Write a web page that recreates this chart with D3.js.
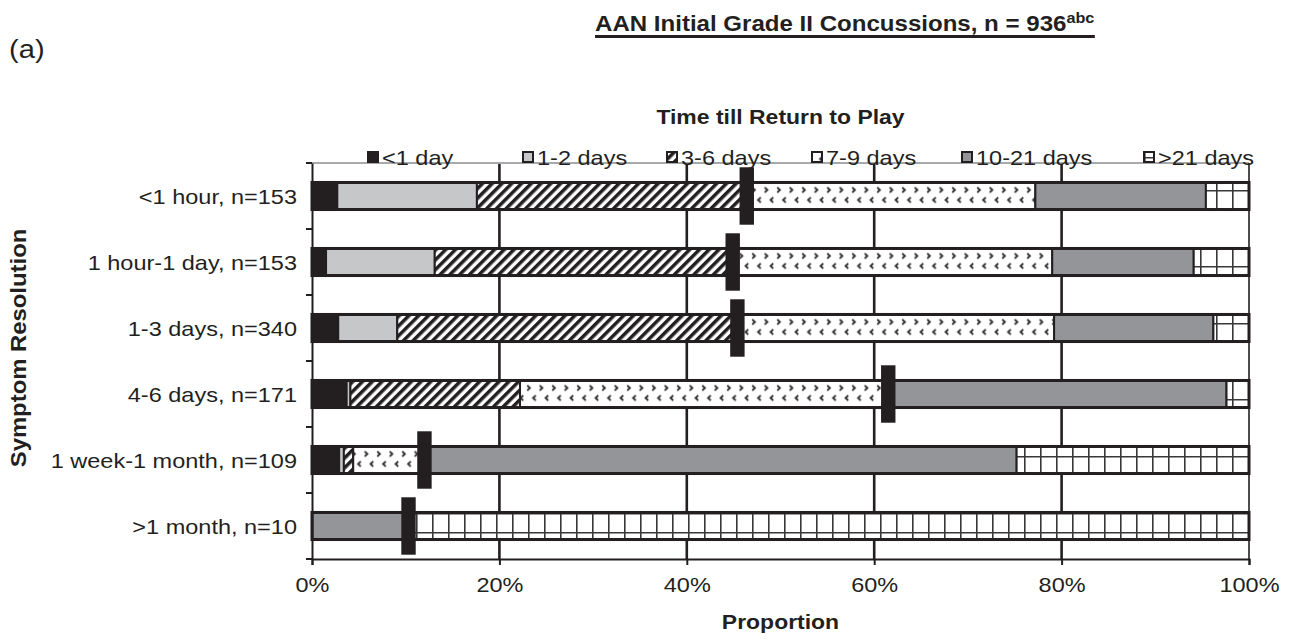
<!DOCTYPE html>
<html><head><meta charset="utf-8">
<script src="https://cdn.jsdelivr.net/npm/d3@7"></script>
<style>
body{margin:0;background:#fff}
text{font-family:"Liberation Sans",Arial,Helvetica,sans-serif;fill:#231f20}
</style>
</head><body>
<svg id="chart" width="1294" height="641"></svg>
<script>
// ---- data (percent of each symptom-resolution group) ----
const categories = ["<1 hour, n=153", "1 hour-1 day, n=153", "1-3 days, n=340",
                    "4-6 days, n=171", "1 week-1 month, n=109", ">1 month, n=10"];
const seriesNames = ["<1 day", "1-2 days", "3-6 days", "7-9 days", "10-21 days", ">21 days"];
const lessThan1Day = [2.7, 1.5, 2.8, 3.7, 2.9, 0];
const days1to2     = [14.9, 11.6, 6.3, 0.4, 0.5, 0];
const days3to6     = [28.7, 31.5, 36.3, 18.1, 1.0, 0];
const days7to9     = [30.9, 34.4, 33.8, 39.0, 7.6, 0];
const days10to21   = [18.2, 15.1, 17.0, 36.4, 63.2, 10];
const over21Days   = [4.6, 5.9, 3.8, 2.4, 24.8, 90];
const medians      = [46.4, 44.9, 45.4, 61.5, 12.0, 10.3];
const xTicks = [0, 20, 40, 60, 80, 100];
const titleText = "AAN Initial Grade II Concussions, n = 936";
const titleSup = "abc";

// ---- setup ----
const svg = d3.select("#chart");
const INK = "#231f20";
const x = d3.scaleLinear().domain([0, 100]).range([312, 1249]);
const y = d3.scaleBand().domain(categories).range([163, 559])
  .paddingInner(0.59).paddingOuter(0.295);
const step = y.step();

const table = categories.map((c, i) => ({
  cat: c,
  [seriesNames[0]]: lessThan1Day[i],
  [seriesNames[1]]: days1to2[i],
  [seriesNames[2]]: days3to6[i],
  [seriesNames[3]]: days7to9[i],
  [seriesNames[4]]: days10to21[i],
  [seriesNames[5]]: over21Days[i]
}));
const stacked = d3.stack().keys(seriesNames)(table);

// ---- patterns ----
const defs = svg.append("defs");
const hatch = defs.append("pattern").attr("id", "hatch")
  .attr("patternUnits", "userSpaceOnUse").attr("width", 6.9).attr("height", 6.9)
  .attr("patternTransform", "rotate(45)");
hatch.append("rect").attr("width", 6.9).attr("height", 6.9).attr("fill", "#fff");
hatch.append("rect").attr("width", 3.5).attr("height", 6.9).attr("fill", INK);

const chev = defs.append("pattern").attr("id", "chev")
  .attr("patternUnits", "userSpaceOnUse").attr("width", 12.5).attr("height", step)
  .attr("x", 0).attr("y", y(categories[0]));
chev.append("rect").attr("width", 12.5).attr("height", step).attr("fill", "#fff");
chev.append("path").attr("d", "M2.2,5 L5,7.5 L2.2,10").attr("fill", "none")
  .attr("stroke", "#2e2b2c").attr("stroke-width", 1.7);
chev.append("path").attr("d", "M10.8,15 L8,17.5 L10.8,20").attr("fill", "none")
  .attr("stroke", "#2e2b2c").attr("stroke-width", 1.7);

const grid = defs.append("pattern").attr("id", "grid")
  .attr("patternUnits", "userSpaceOnUse").attr("width", 16).attr("height", 19);
grid.append("rect").attr("width", 16).attr("height", 19).attr("fill", "#fff");
grid.append("path").attr("d", "M0,0 V19 M0,0 H16").attr("stroke", "#3a3738")
  .attr("stroke-width", 3.2).attr("fill", "none");

const fills = {
  "<1 day": INK,
  "1-2 days": "#c6c7c9",
  "3-6 days": "url(#hatch)",
  "7-9 days": "url(#chev)",
  "10-21 days": "#939598",
  ">21 days": "url(#grid)"
};

// helper for stretched text
function label(g, px, py, str, o = {}) {
  const t = g.append("text")
    .attr("transform", `translate(${px},${py}) rotate(${o.rot || 0}) scale(${o.sx || 1.12},1)`)
    .attr("text-anchor", o.anchor || "start")
    .attr("font-size", o.size || 21)
    .attr("font-weight", o.weight || "normal")
    .text(str);
  return t;
}

// ---- plot frame & gridlines ----
svg.append("g").selectAll("line").data(xTicks.slice(1, -1)).join("line")
  .attr("x1", d => x(d)).attr("x2", d => x(d))
  .attr("y1", y.range()[0]).attr("y2", y.range()[1])
  .attr("stroke", INK).attr("stroke-width", 2.6);
svg.append("line").attr("x1", x(0)).attr("x2", x(100))
  .attr("y1", y.range()[0]).attr("y2", y.range()[0])
  .attr("stroke", "#a7a9ac").attr("stroke-width", 2.2);
svg.append("line").attr("x1", x(100)).attr("x2", x(100))
  .attr("y1", y.range()[0]).attr("y2", y.range()[1])
  .attr("stroke", INK).attr("stroke-width", 1.6);

// ---- bars ----
const layers = svg.append("g").selectAll("g").data(stacked).join("g")
  .attr("fill", d => fills[d.key]);
layers.selectAll("rect").data(d => d.filter(s => s[1] - s[0] > 0)).join("rect")
  .attr("x", d => x(d[0])).attr("width", d => x(d[1]) - x(d[0]))
  .attr("y", d => y(d.data.cat)).attr("height", y.bandwidth())
  .attr("stroke", INK).attr("stroke-width", 2);
svg.append("g").selectAll("rect").data(categories).join("rect")
  .attr("x", x(0)).attr("width", x(100) - x(0))
  .attr("y", d => y(d)).attr("height", y.bandwidth())
  .attr("fill", "none").attr("stroke", INK).attr("stroke-width", 3);

// ---- median markers ----
const mh = step * 0.87;
svg.append("g").selectAll("rect").data(medians).join("rect")
  .attr("x", d => x(d) - 7.2).attr("width", 14.4)
  .attr("y", (d, i) => y(categories[i]) + y.bandwidth() / 2 - mh / 2)
  .attr("height", mh).attr("fill", INK);

// ---- axes ----
const xAxis = svg.append("g").attr("transform", `translate(0,${y.range()[1]})`)
  .call(d3.axisBottom(x).tickValues(xTicks).tickSize(6).tickFormat(d => d + "%"));
xAxis.select(".domain").attr("stroke", INK).attr("stroke-width", 2);
xAxis.selectAll(".tick line").attr("stroke", INK).attr("stroke-width", 2);
xAxis.selectAll(".tick text").remove();
xAxis.selectAll(".tick").each(function(d) {
  label(d3.select(this), 0, 33, d + "%", { anchor: "middle" });
});

const yAxis = svg.append("g").attr("transform", `translate(${x(0)},0)`)
  .call(d3.axisLeft(y).tickSize(0));
yAxis.select(".domain").attr("stroke", INK).attr("stroke-width", 2);
yAxis.selectAll(".tick text").remove();
yAxis.selectAll(".tick").each(function(d) {
  label(d3.select(this), -15, 7.5, d, { anchor: "end" });
});
yAxis.append("g").selectAll("line").data(d3.range(categories.length + 1)).join("line")
  .attr("x1", -6).attr("x2", 0)
  .attr("y1", i => y.range()[0] + i * step).attr("y2", i => y.range()[0] + i * step)
  .attr("stroke", INK).attr("stroke-width", 2);

// ---- titles ----
const tg = svg.append("g");
const title = label(tg, 595, 31, titleText, { size: 21.5, weight: "bold", sx: 1.12 });
title.append("tspan").attr("font-size", 14.5).attr("dy", -8).text(titleSup);
const tw = title.node().getBBox().width * 1.12;
tg.append("line").attr("x1", 595).attr("x2", 595 + tw).attr("y1", 36.5).attr("y2", 36.5)
  .attr("stroke", INK).attr("stroke-width", 3);

label(svg, 9, 58, "(a)", { size: 26, sx: 1.12 });
label(svg, (x(0) + x(100)) / 2, 124, "Time till Return to Play", { size: 20.5, weight: "bold", sx: 1.12, anchor: "middle" });
label(svg, (x(0) + x(100)) / 2, 629, "Proportion", { size: 20.5, weight: "bold", sx: 1.12, anchor: "middle" });
label(svg, 26, 348, "Symptom Resolution", { size: 21.5, weight: "bold", sx: 1.11, rot: -90, anchor: "middle" });

// ---- legend ----
const legendX = [368, 523, 667, 812, 962, 1144];
const lg = svg.append("g").selectAll("g").data(seriesNames).join("g")
  .attr("transform", (d, i) => `translate(${legendX[i]},157)`);
lg.append("rect").attr("x", 0).attr("y", -5).attr("width", 10).attr("height", 10)
  .attr("fill", d => fills[d]).attr("stroke", INK).attr("stroke-width", 2);
lg.each(function(d) { label(d3.select(this), 14, 7.5, d, { size: 21 }); });
</script>
</body></html>
